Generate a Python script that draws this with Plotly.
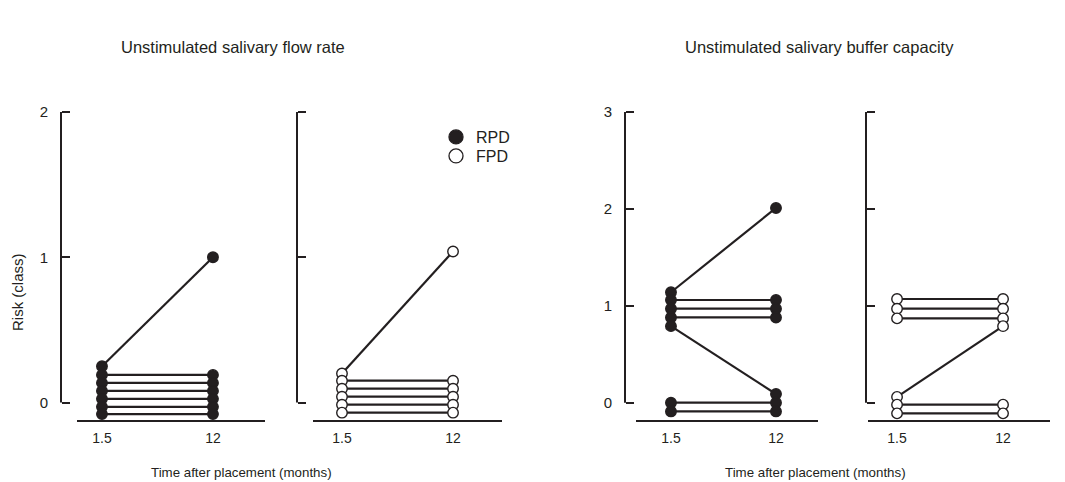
import plotly.graph_objects as go

W, H = 1065, 482
OFF = 8  # page body margin of the html page
INK = "#231f20"
FONT = "Liberation Sans, Arial, Helvetica, sans-serif"

# Time points (categorical)
time_labels = ["1.5", "12"]

# Unstimulated salivary flow rate (risk class), values as plotted (offset for visibility)
flow_rpd_t1 = [0.25, 0.19, 0.135, 0.08, 0.025, -0.03, -0.08]
flow_rpd_t2 = [1.00, 0.19, 0.135, 0.08, 0.025, -0.03, -0.08]
flow_fpd_t1 = [0.20, 0.15, 0.095, 0.04, -0.015, -0.07]
flow_fpd_t2 = [1.04, 0.15, 0.095, 0.04, -0.015, -0.07]

# Unstimulated salivary buffer capacity (risk class)
buf_rpd_t1 = [1.14, 1.06, 0.97, 0.88, 0.79, 0.00, -0.09]
buf_rpd_t2 = [2.01, 1.06, 0.97, 0.88, 0.09, 0.00, -0.09]
buf_fpd_t1 = [1.07, 0.97, 0.87, 0.06, -0.02, -0.11]
buf_fpd_t2 = [1.07, 0.97, 0.87, 0.79, -0.02, -0.11]

flow_ticks = [0, 1, 2]
buf_ticks = [0, 1, 2, 3]


def px(x):
    return (x - OFF) / W


def py(y):
    return 1 - (y - OFF) / H


fig = go.Figure()

panels = [
    # (t1, t2, filled, x-domain px, x-range, y-axis px, y-range, ticks, show labels)
    (flow_rpd_t1, flow_rpd_t2, True, (77, 265), (-0.225, 1.469), 61, (-0.1205, 2.083), flow_ticks, True),
    (flow_fpd_t1, flow_fpd_t2, False, (313, 502), (-0.261, 1.441), 297, (-0.1205, 2.083), flow_ticks, False),
    (buf_rpd_t1, buf_rpd_t2, True, (636, 818), (-0.333, 1.400), 625, (-0.1785, 3.124), buf_ticks, True),
    (buf_fpd_t1, buf_fpd_t2, False, (868, 1050), (-0.274, 1.443), 866, (-0.1785, 3.124), buf_ticks, False),
]

y_dom = [py(420), py(100)]
shapes = []
for i, (t1, t2, filled, xd, xr, ypos, yr, ticks, showlab) in enumerate(panels, start=1):
    xa = "x" if i == 1 else f"x{i}"
    ya = "y" if i == 1 else f"y{i}"
    for a, b in zip(t1, t2):
        fig.add_trace(go.Scatter(
            x=[0, 1], y=[a, b], xaxis=xa, yaxis=ya, mode="lines+markers",
            line=dict(color=INK, width=2.2),
            marker=dict(size=10.5, color=INK if filled else "white",
                        line=dict(color=INK, width=1.4)),
            cliponaxis=False, showlegend=False, hoverinfo="skip"))
    xkey = "xaxis" if i == 1 else f"xaxis{i}"
    ykey = "yaxis" if i == 1 else f"yaxis{i}"
    fig.layout[xkey] = dict(
        domain=[px(xd[0]), px(xd[1])], range=list(xr), anchor=ya,
        tickmode="array", tickvals=[0, 1], ticktext=time_labels,
        ticks="", showgrid=False, zeroline=False, showline=True,
        linecolor=INK, linewidth=2, ticklabelstandoff=4,
        tickfont=dict(family=FONT, size=14, color=INK))
    fig.layout[ykey] = dict(
        domain=y_dom, range=list(yr), anchor="free", position=px(ypos),
        tickmode="array", tickvals=ticks, ticktext=[str(t) for t in ticks],
        ticks="inside", ticklen=8, tickwidth=2, tickcolor=INK,
        showticklabels=showlab, ticklabelstandoff=13,
        showgrid=False, zeroline=False, showline=False,
        tickfont=dict(family=FONT, size=15, color=INK))
    shapes.append(dict(type="line", xref="paper", yref=ya,
                       x0=px(ypos), x1=px(ypos), y0=0, y1=ticks[-1],
                       line=dict(color=INK, width=2)))

# Legend entries (one legend box per entry so they can be spaced tightly)
fig.add_trace(go.Scatter(x=[None], y=[None], mode="markers", name="RPD", legend="legend",
                         marker=dict(size=14, color=INK, line=dict(color=INK, width=1.3)),
                         xaxis="x2", yaxis="y2"))
fig.add_trace(go.Scatter(x=[None], y=[None], mode="markers", name="FPD", legend="legend2",
                         marker=dict(size=14, color="white", line=dict(color=INK, width=1.3)),
                         xaxis="x2", yaxis="y2"))

annotations = [
    dict(text="Unstimulated salivary flow rate", x=px(233), y=py(47), size=16.5),
    dict(text="Unstimulated salivary buffer capacity", x=px(819), y=py(47), size=16.5),
    dict(text="Time after placement (months)", x=px(241), y=py(472), size=13.3),
    dict(text="Time after placement (months)", x=px(815), y=py(472), size=13.3),
    dict(text="Risk (class)", x=px(17), y=py(292), size=15, textangle=-90),
]
ann = []
for a in annotations:
    ann.append(dict(text=a["text"], x=a["x"], y=a["y"], xref="paper", yref="paper",
                    xanchor="center", yanchor="middle", showarrow=False,
                    textangle=a.get("textangle", 0),
                    font=dict(family=FONT, size=a["size"], color=INK)))

leg_common = dict(xanchor="left", yanchor="middle", bgcolor="rgba(0,0,0,0)",
                  itemwidth=30, font=dict(family=FONT, size=16, color=INK))
fig.update_layout(
    width=W, height=H, margin=dict(l=0, r=0, t=0, b=0),
    paper_bgcolor="white", plot_bgcolor="white",
    shapes=shapes, annotations=ann,
    showlegend=True,
    legend=dict(x=px(436), y=py(137), **leg_common),
    legend2=dict(x=px(436), y=py(156), **leg_common),
)

fig.write_html("out.html")
